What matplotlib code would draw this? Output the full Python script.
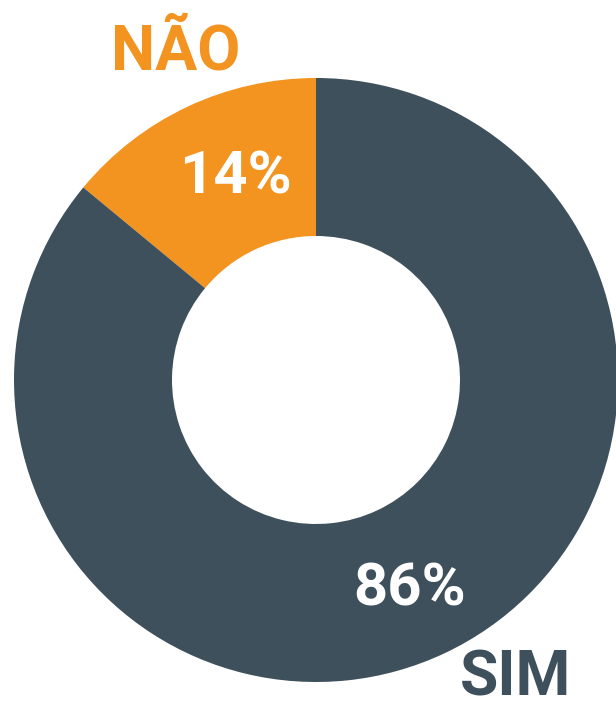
import matplotlib
matplotlib.use("Agg")
import matplotlib.pyplot as plt

labels = ["NÃO", "SIM"]
values = [14, 86]
pct_labels = ["14%", "86%"]
colors = ["#F39320", "#3E505B"]

W, H = 616, 711
fig = plt.figure(figsize=(W / 100, H / 100), dpi=100)
ax = fig.add_axes([0, 0, 1, 1])

cx, cy = 316, H - 380
R, r = 302, 144
ax.pie(values, colors=colors, startangle=90, counterclock=True,
       center=(cx, cy), radius=R, frame=True,
       wedgeprops=dict(width=R - r, linewidth=0))
ax.set_xlim(0, W)
ax.set_ylim(0, H)
ax.set_aspect("equal")
ax.axis("off")

font = "Roboto"
fs = 43
ax.text(176, H - 69, labels[0], ha="center", va="baseline", fontsize=45,
        fontweight="bold", color=colors[0], family=font)
ax.text(235, H - 194, pct_labels[0], ha="center", va="baseline", fontsize=fs,
        fontweight="bold", color="white", family=font)
ax.text(410, H - 605, pct_labels[1], ha="center", va="baseline", fontsize=fs,
        fontweight="bold", color="white", family=font)
ax.text(516, H - 708, labels[1], ha="center", va="bottom", fontsize=45,
        fontweight="bold", color=colors[1], family=font)

fig.savefig("out.png", dpi=100)
